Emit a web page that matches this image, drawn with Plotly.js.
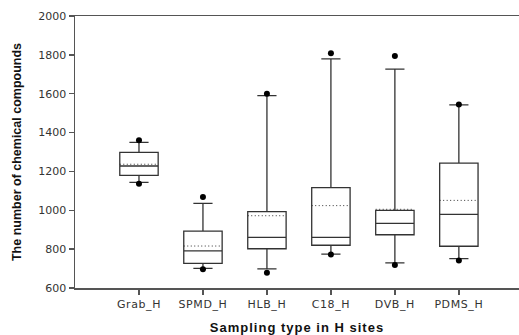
<!DOCTYPE html>
<html><head><meta charset="utf-8">
<script src="https://cdn.plot.ly/plotly-3.0.1.min.js"></script>
<style>body{margin:0;padding:0;background:#fff}#chart{width:519px;height:335px}</style>
</head><body><div id="chart"></div>
<script>
var categories = ['Grab_H','SPMD_H','HLB_H','C18_H','DVB_H','PDMS_H'];
var q1Vals     = [1180, 727, 802, 820, 874, 815];
var medianVals = [1228, 791, 861, 861, 933, 979];
var q3Vals     = [1298, 893, 993, 1117, 1000, 1243];
var meanVals   = [1237, 816, 972, 1024, 1005, 1051];
var lowerWhisk = [1144, 701, 698, 774, 729, 751];
var upperWhisk = [1350, 1036, 1590, 1779, 1727, 1543];
var lowerDots  = [1137, 696, 679, 772, 718, 741];
var upperDots  = [1360, 1068, 1600, 1808, 1794, 1545];
var yTicks     = [600, 800, 1000, 1200, 1400, 1600, 1800, 2000];

var lineCol = '#333333';
var traces = [{
  type: 'box',
  x: categories,
  q1: q1Vals, median: medianVals, q3: q3Vals, mean: meanVals,
  lowerfence: lowerWhisk, upperfence: upperWhisk,
  boxmean: true,
  boxpoints: false,
  width: 0.6,
  whiskerwidth: 0.5,
  fillcolor: 'rgba(255,255,255,0)',
  line: {color: lineCol, width: 1.3},
  hoverinfo: 'skip',
  showlegend: false
},{
  type: 'scatter', mode: 'markers',
  x: categories.concat(categories),
  y: lowerDots.concat(upperDots),
  marker: {color: '#000', size: 6},
  hoverinfo: 'skip', showlegend: false
}];

var layout = {
  width: 519, height: 335,
  margin: {l: 75, r: 0, t: 16, b: 47},
  paper_bgcolor: '#fff', plot_bgcolor: '#fff',
  showlegend: false,
  xaxis: {
    type: 'category',
    range: [-1, 5.94],
    showline: true, linecolor: '#555', linewidth: 1.5, mirror: true,
    showgrid: false, zeroline: false,
    ticks: 'outside', ticklen: 5, tickcolor: '#555', tickwidth: 1.5,
    tickfont: {family: 'DejaVu Sans', size: 11, color: '#333'},
    title: {text: 'Sampling type in H sites', standoff: 13,
            font: {family: 'Liberation Sans, Arial', size: 13, color: '#111', weight: 'bold'}}
  },
  yaxis: {
    range: [600, 2000],
    tickvals: yTicks,
    showline: true, linecolor: '#555', linewidth: 1.5,
    showgrid: false, zeroline: false,
    ticks: 'outside', ticklen: 5, tickcolor: '#555', tickwidth: 1.5,
    tickfont: {family: 'DejaVu Sans', size: 11, color: '#333'},
    title: {text: 'The number of chemical compounds', standoff: 14,
            font: {family: 'Liberation Sans, Arial', size: 12.5, color: '#111', weight: 'bold'}}
  }
};

Plotly.newPlot('chart', traces, layout, {staticPlot: true}).then(function(gd){
  var means = gd.querySelectorAll('path.mean');
  means.forEach(function(p){ p.style.strokeDasharray = '1px,2.5px'; p.style.strokeWidth = '1px'; });
  var xt = gd.querySelectorAll('.g-xtitle text');
  xt.forEach(function(t){ t.style.letterSpacing = '1px'; });
  var xl = gd.querySelectorAll('.xtick text');
  xl.forEach(function(t){ t.style.letterSpacing = '0.6px'; });
});
</script></body></html>
